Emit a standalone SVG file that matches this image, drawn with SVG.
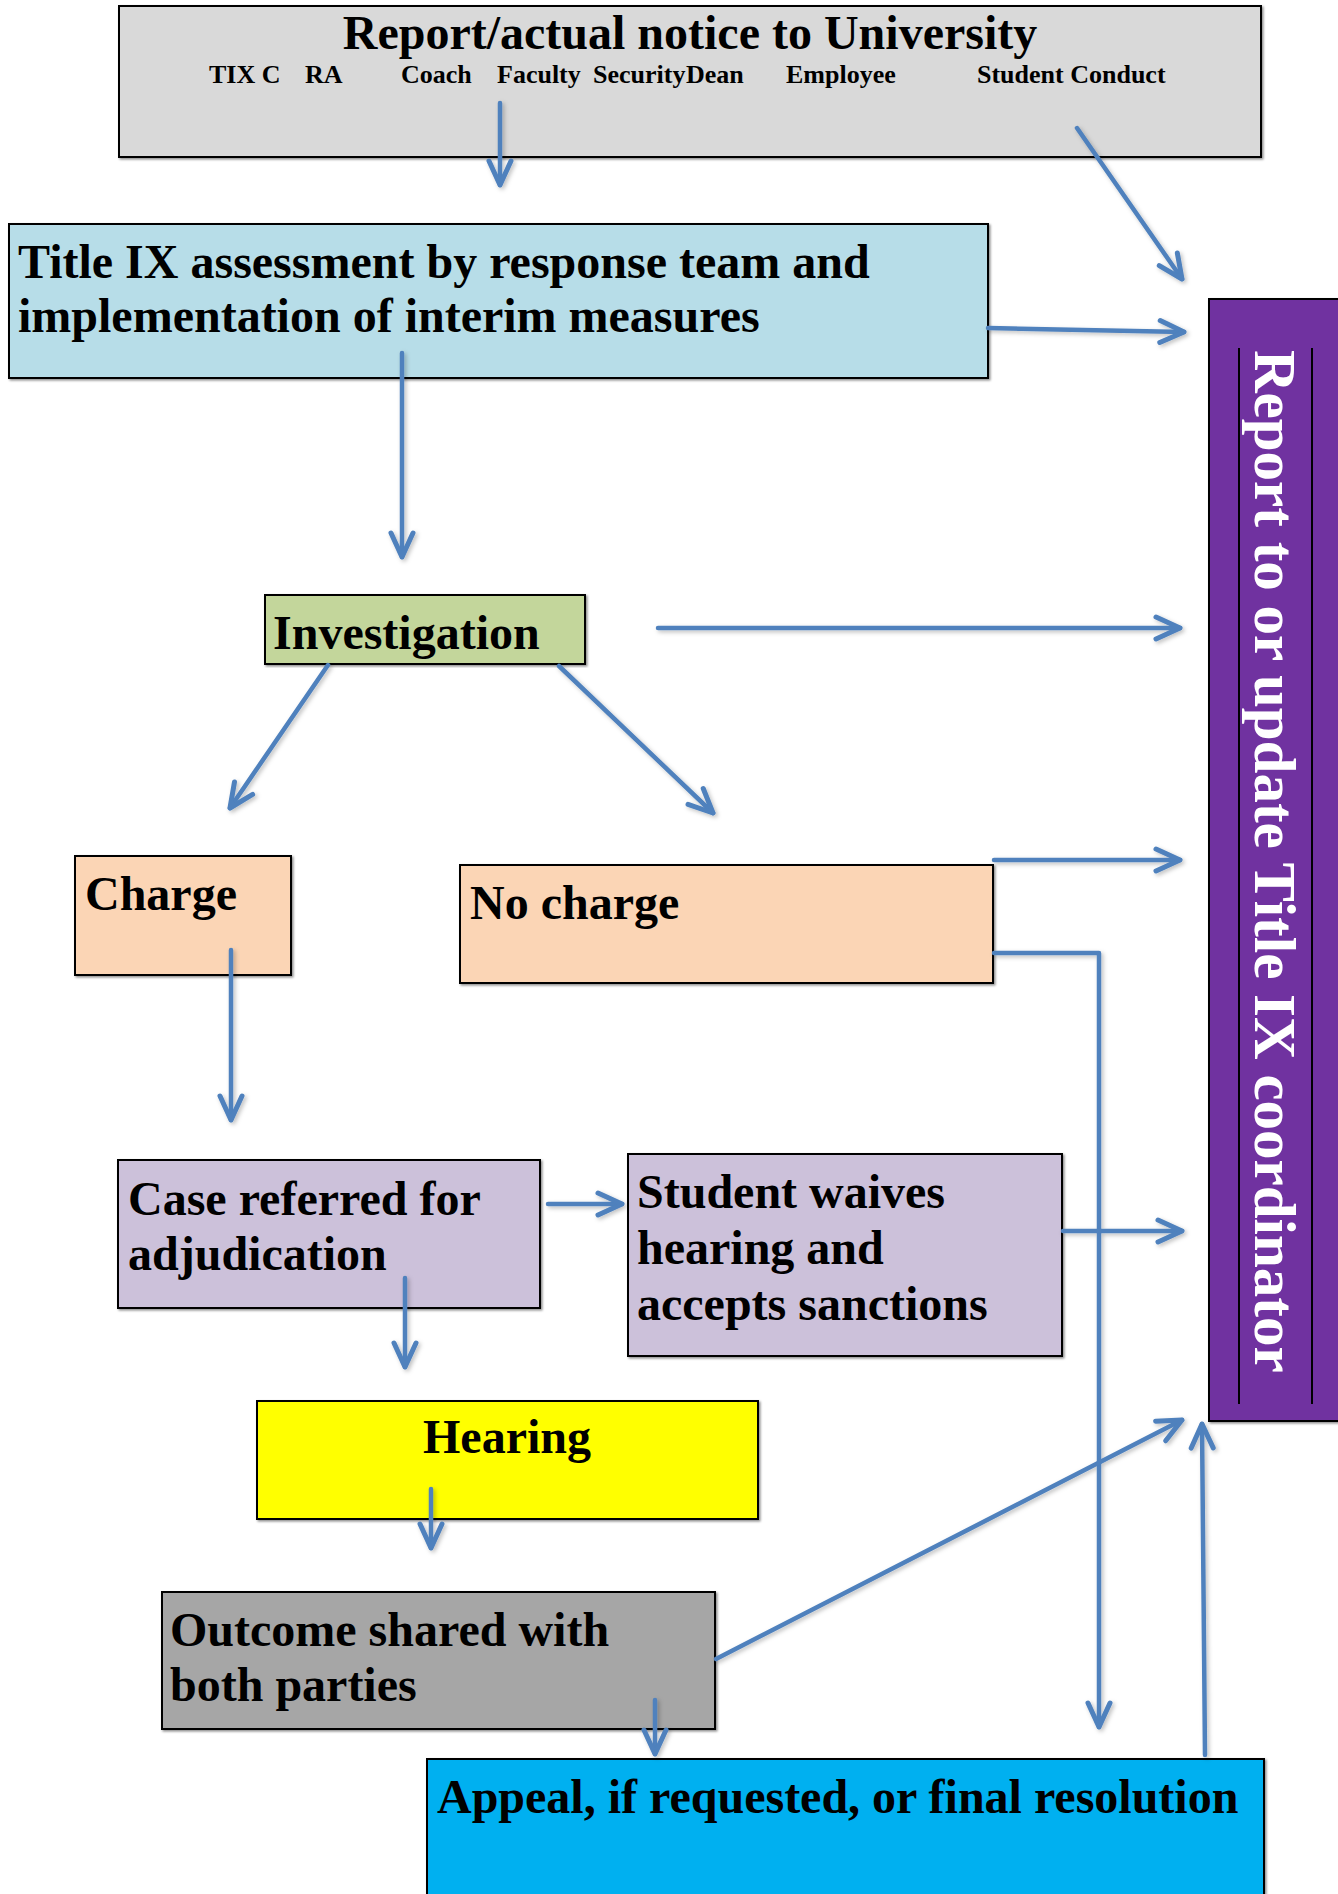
<svg xmlns="http://www.w3.org/2000/svg" width="1338" height="1894" viewBox="0 0 1338 1894">
<style>
.box{stroke:#000;stroke-width:2;filter:url(#sh)}
.t{font-family:"Liberation Serif","Times New Roman",serif;font-weight:bold;font-size:48px;fill:#000}
.sub{font-family:"Liberation Serif","Times New Roman",serif;font-weight:bold;font-size:26px;fill:#000}
.c{fill:none;stroke:#4f81bd;stroke-width:4.5;stroke-linecap:round;stroke-linejoin:round;marker-end:url(#ah)}
</style>
<defs>
<filter id="sh" x="-5%" y="-5%" width="110%" height="110%">
<feDropShadow dx="1.5" dy="1.5" stdDeviation="1" flood-color="#000" flood-opacity="0.45"/>
</filter>
<filter id="ls" x="-10%" y="-10%" width="120%" height="120%">
<feDropShadow dx="2" dy="2" stdDeviation="2" flood-color="#000" flood-opacity="0.25"/>
</filter>
<marker id="ah" markerUnits="userSpaceOnUse" orient="auto" markerWidth="60" markerHeight="60" refX="0" refY="0" viewBox="-30 -30 60 60" overflow="visible">
<path d="M-24,-11 L0,0 L-24,11" fill="none" stroke="#4f81bd" stroke-width="5" stroke-linecap="round" stroke-linejoin="round"/>
</marker>
</defs>
<rect width="1338" height="1894" fill="#fff"/>

<g id="report">
<rect class="box" x="119" y="6" width="1142" height="151" fill="#d9d9d9"/>
<text class="t" x="690" y="49" text-anchor="middle">Report/actual notice to University</text>
<text class="sub" y="83"><tspan x="209">TIX C</tspan><tspan x="305">RA</tspan><tspan x="401">Coach</tspan><tspan x="497">Faculty</tspan><tspan x="593">Security</tspan><tspan x="686">Dean</tspan><tspan x="786">Employee</tspan><tspan x="977">Student Conduct</tspan></text>
</g>

<g id="assessment">
<rect class="box" x="9" y="224" width="979" height="154" fill="#b7dde8"/>
<text class="t" x="18" y="278">Title IX assessment by response team and</text>
<text class="t" x="18" y="332">implementation of interim measures</text>
</g>

<g id="coordinator">
<rect class="box" x="1209" y="299" width="131" height="1122" fill="#7030a0"/>
<line x1="1239" y1="348" x2="1239" y2="1404" stroke="#000" stroke-width="2"/>
<line x1="1312" y1="348" x2="1312" y2="1404" stroke="#000" stroke-width="2"/>
<text class="t" style="font-size:59px;fill:#fff" transform="translate(1255,350) rotate(90)">Report to or update Title IX coordinator</text>
</g>

<g id="investigation">
<rect class="box" x="265" y="595" width="320" height="69" fill="#c3d69b"/>
<text class="t" x="273" y="649">Investigation</text>
</g>

<g id="charge">
<rect class="box" x="75" y="856" width="216" height="119" fill="#fbd5b5"/>
<text class="t" x="85" y="910">Charge</text>
</g>

<g id="nocharge">
<rect class="box" x="460" y="865" width="533" height="118" fill="#fbd5b5"/>
<text class="t" x="470" y="919">No charge</text>
</g>

<g id="case">
<rect class="box" x="118" y="1160" width="422" height="148" fill="#ccc1da"/>
<text class="t" x="128" y="1215">Case referred for</text>
<text class="t" x="128" y="1270">adjudication</text>
</g>

<g id="waives">
<rect class="box" x="628" y="1154" width="434" height="202" fill="#ccc1da"/>
<text class="t" x="637" y="1208">Student waives</text>
<text class="t" x="637" y="1264">hearing and</text>
<text class="t" x="637" y="1320">accepts sanctions</text>
</g>

<g id="hearing">
<rect class="box" x="257" y="1401" width="501" height="118" fill="#ffff00"/>
<text class="t" x="507" y="1453" text-anchor="middle">Hearing</text>
</g>

<g id="outcome">
<rect class="box" x="162" y="1592" width="553" height="137" fill="#a6a6a6"/>
<text class="t" x="170" y="1646">Outcome shared with</text>
<text class="t" x="170" y="1701">both parties</text>
</g>

<g id="appeal">
<rect class="box" x="427" y="1759" width="837" height="145" fill="#00b0f0"/>
<text class="t" x="437" y="1813">Appeal, if requested, or final resolution</text>
</g>

<g id="connectors" filter="url(#ls)">
<line class="c" x1="500" y1="103" x2="500" y2="185"/>
<line class="c" x1="1077" y1="128" x2="1182" y2="279"/>
<line class="c" x1="988" y1="328" x2="1184" y2="332"/>
<line class="c" x1="402" y1="353" x2="402" y2="557"/>
<line class="c" x1="658" y1="628" x2="1180" y2="628"/>
<line class="c" x1="328" y1="665" x2="230" y2="808"/>
<line class="c" x1="559" y1="666" x2="713" y2="813"/>
<line class="c" x1="994" y1="860" x2="1180" y2="860"/>
<polyline class="c" points="994,953 1099,953 1099,1727"/>
<line class="c" x1="231" y1="950" x2="231" y2="1120"/>
<line class="c" x1="548" y1="1204" x2="622" y2="1204"/>
<line class="c" x1="405" y1="1278" x2="405" y2="1367"/>
<line class="c" x1="1063" y1="1231" x2="1182" y2="1231"/>
<line class="c" x1="431" y1="1489" x2="431" y2="1548"/>
<line class="c" x1="716" y1="1659" x2="1182" y2="1420"/>
<line class="c" x1="655" y1="1700" x2="655" y2="1754"/>
<line class="c" x1="1205" y1="1755" x2="1202" y2="1424"/>
</g>
</svg>
